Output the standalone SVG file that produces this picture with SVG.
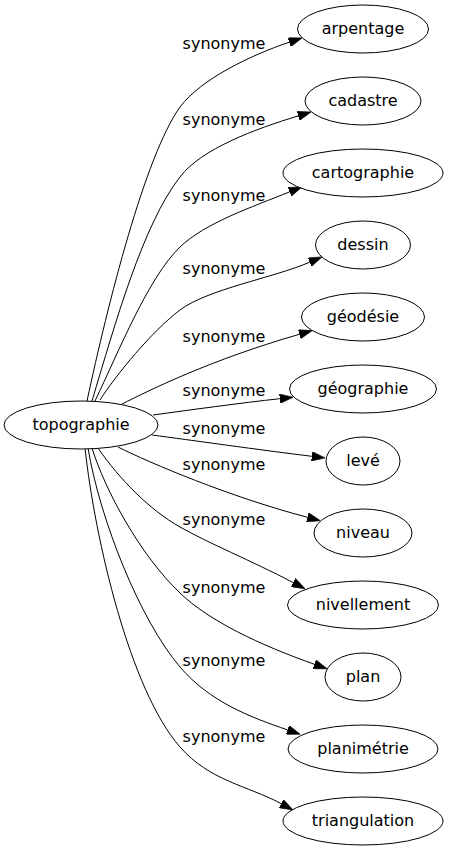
<svg xmlns="http://www.w3.org/2000/svg" width="449" height="851" viewBox="0 0 449 851">
<style>
.n ellipse{fill:#fff;stroke:#000;stroke-width:1}
text{font-family:"DejaVu Sans","Liberation Sans",sans-serif;font-size:16px;fill:#000;text-anchor:middle}
.e path{fill:none;stroke:#000;stroke-width:1;marker-end:url(#ah)}
</style>
<defs>
<marker id="ah" viewBox="0 0 10 7" markerUnits="userSpaceOnUse" markerWidth="13.33" markerHeight="9.33" refX="0" refY="3.5" orient="auto">
<path d="M0,0 L10,3.5 L0,7 z" fill="#000" stroke="#000" stroke-width="0.5"/>
</marker>
</defs>
<rect width="449" height="851" fill="#fff"/>
<g id="edges" class="e">
<path d="M87,401 C108,303 145,156 180,107 C201,79 251,55 289.4,42.2"/>
<path d="M92,401 C115,324 143,224 180,177 C201,149 255,129 298.3,115.9"/>
<path d="M95,401 C119,351 148,278 180,247 C205,223 252,207 289.6,191.9"/>
<path d="M100,400 C116,375 152,331 180,310 C208,289 273,278 309.7,262.2"/>
<path d="M122,404 C150,390 210,360 299.4,334.3"/>
<path d="M153,415 C190,410 240,403 279.8,398.7"/>
<path d="M152,435 C190,440 260,450 311.8,456.3"/>
<path d="M118,447 C150,463 230,497 307.5,517.3"/>
<path d="M98,448 C120,480 150,510 180,527 C210,544 250,560 293.3,582.6"/>
<path d="M92,448 C105,490 140,555 180,593 C209,621 260,645 314.5,664.3"/>
<path d="M88,448 C100,520 140,620 180,667 C210,702 250,717 287.6,729.9"/>
<path d="M85,448 C95,540 130,690 180,747 C210,781 246,785 281.3,803.7"/>
</g>
<g id="labels">
<text x="224" y="49">synonyme</text>
<text x="224" y="125">synonyme</text>
<text x="224" y="201">synonyme</text>
<text x="224" y="274">synonyme</text>
<text x="224" y="342">synonyme</text>
<text x="224" y="396">synonyme</text>
<text x="224" y="434">synonyme</text>
<text x="224" y="470">synonyme</text>
<text x="224" y="525">synonyme</text>
<text x="224" y="593">synonyme</text>
<text x="224" y="666">synonyme</text>
<text x="224" y="742">synonyme</text>
</g>
<g id="topographie" class="n"><ellipse cx="81" cy="425" rx="77" ry="24"/><text x="81" y="430">topographie</text></g>
<g id="arpentage" class="n"><ellipse cx="363" cy="29" rx="65.5" ry="24"/><text x="363" y="34">arpentage</text></g>
<g id="cadastre" class="n"><ellipse cx="363" cy="101" rx="58" ry="24"/><text x="363" y="106">cadastre</text></g>
<g id="cartographie" class="n"><ellipse cx="363" cy="173" rx="80" ry="24"/><text x="363" y="178">cartographie</text></g>
<g id="dessin" class="n"><ellipse cx="363" cy="245" rx="47.5" ry="24"/><text x="363" y="250">dessin</text></g>
<g id="geodesie" class="n"><ellipse cx="363" cy="317" rx="61.5" ry="24"/><text x="363" y="322">géodésie</text></g>
<g id="geographie" class="n"><ellipse cx="363" cy="389" rx="73.5" ry="24"/><text x="363" y="394">géographie</text></g>
<g id="leve" class="n"><ellipse cx="363" cy="461" rx="37" ry="24"/><text x="363" y="466">levé</text></g>
<g id="niveau" class="n"><ellipse cx="363" cy="533" rx="49" ry="24"/><text x="363" y="538">niveau</text></g>
<g id="nivellement" class="n"><ellipse cx="363" cy="605" rx="75.5" ry="24"/><text x="363" y="610">nivellement</text></g>
<g id="plan" class="n"><ellipse cx="363" cy="677" rx="38" ry="24"/><text x="363" y="682">plan</text></g>
<g id="planimetrie" class="n"><ellipse cx="363" cy="749" rx="75" ry="24"/><text x="363" y="754">planimétrie</text></g>
<g id="triangulation" class="n"><ellipse cx="363" cy="821" rx="80" ry="24"/><text x="363" y="826">triangulation</text></g>
</svg>
